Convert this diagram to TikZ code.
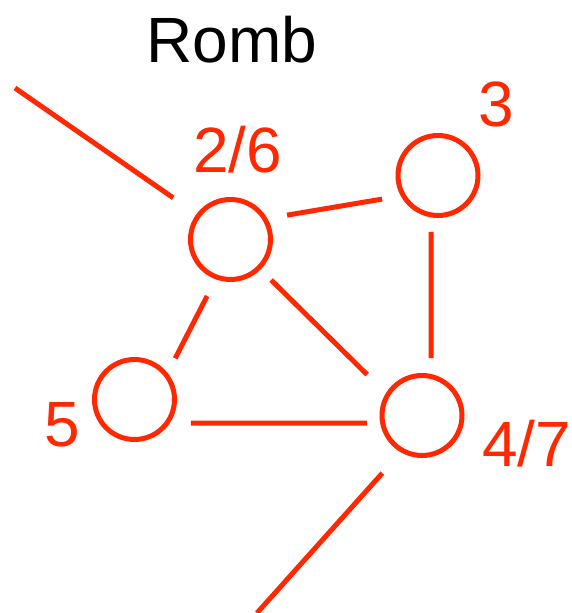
\documentclass[tikz,border=0pt]{standalone}
\usepackage{fontspec}
\setmainfont{Liberation Sans}
\definecolor{rombred}{RGB}{255,40,0}
\begin{document}
\begin{tikzpicture}[x=1pt,y=-1pt,
  vtx/.style={circle,draw=rombred,line width=5pt,minimum size=80pt,inner sep=0pt,outer sep=0pt},
  edg/.style={draw=rombred,line width=5pt},
  lbl/.style={text=rombred,anchor=base,inner sep=0pt,font=\fontsize{64}{64}\selectfont},
  ttl/.style={text=black,anchor=base,inner sep=0pt,font=\fontsize{64}{64}\selectfont}]
\useasboundingbox (0,0) rectangle (571,613);
\node[ttl] (title) at (232,62) {Romb};
\node[vtx] (A) at (230.5,239.5) {};
\node[vtx] (B) at (438,175.5) {};
\node[vtx] (C) at (134.5,399.5) {};
\node[vtx] (D) at (422,415.5) {};
\node[lbl] (lA) at (237.5,172) {2/6};
\node[lbl] (lB) at (496.5,126) {3};
\node[lbl] (lC) at (62.5,446) {5};
\node[lbl] (lD) at (526.5,466.5) {4/7};
\coordinate (tl) at (15,88);
\coordinate (bt) at (257,613);
\draw[edg,shorten >=30.9pt] (tl) -- (A.143.4);
\draw[edg,shorten <=22.6pt,shorten >=21.6pt] (A.31.2) -- (B.-150.2);
\draw[edg,shorten <=17.1pt,shorten >=18.5pt] (B.-100.1) -- (D.77);
\draw[edg,shorten <=21.3pt,shorten >=19.2pt] (A.-110.1) -- (C.37.6);
\draw[edg,shorten <=17.3pt,shorten >=28.8pt] (A.-45.1) -- (D.149.6);
\draw[edg,shorten <=24.1pt,shorten >=15.7pt] (C.-36) -- (D.-169.2);
\draw[edg,shorten <=30.4pt] (D.-119.6) -- (bt);
\end{tikzpicture}
\end{document}
